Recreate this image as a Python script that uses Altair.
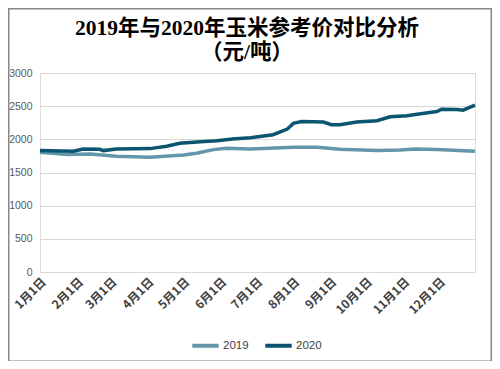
import altair as alt
import pandas as pd

title_lines = ["2019年与2020年玉米参考价对比分析", "（元/吨）"]

# tick labels at month starts
month_labels = ["1月1日", "2月1日", "3月1日", "4月1日", "5月1日", "6月1日",
                "7月1日", "8月1日", "9月1日", "10月1日", "11月1日", "12月1日"]
month_days = [0, 31, 59, 90, 120, 151, 181, 212, 243, 273, 304, 334]

# 2019 series (day of year, price)
days_2019 = [0, 23, 42, 64, 92, 120, 131, 145, 156, 176, 212, 232, 251, 282, 301, 315, 332, 364]
vals_2019 = [1805, 1770, 1780, 1745, 1730, 1765, 1790, 1845, 1865, 1855, 1880, 1880, 1850, 1830, 1840, 1855, 1845, 1820]

# 2020 series (day of year, price)
days_2020 = [0, 28, 36, 50, 53, 64, 92, 106, 117, 134, 148, 161, 176, 195, 207, 212, 219, 237, 244,
             251, 265, 282, 293, 307, 320, 332, 336, 349, 354, 364]
vals_2020 = [1830, 1820, 1855, 1850, 1830, 1855, 1860, 1895, 1940, 1965, 1980, 2005, 2025, 2070, 2155,
             2240, 2270, 2260, 2220, 2220, 2260, 2280, 2340, 2355, 2390, 2420, 2455, 2450, 2440, 2515]

df = pd.concat([
    pd.DataFrame({"day": days_2019, "price": vals_2019, "year": "2019"}),
    pd.DataFrame({"day": days_2020, "price": vals_2020, "year": "2020"}),
])

label_expr = "[" + ",".join("'" + s + "'" for s in month_labels) + "][indexof(" + \
    "[" + ",".join(str(d) for d in month_days) + "], datum.value)]"

lines = alt.Chart(df).mark_line(strokeWidth=3.5).encode(
    x=alt.X("day:Q", scale=alt.Scale(domain=[0, 364], nice=False, zero=False),
            axis=alt.Axis(values=month_days, labelExpr=label_expr, labelAngle=-45,
                          grid=False, domain=False, ticks=False, labelPadding=4,
                          labelFont="Noto Sans CJK SC", labelFontWeight="bold",
                          labelFontSize=12, labelColor="#404040", title=None,
                          labelOverlap=False)),
    y=alt.Y("price:Q", scale=alt.Scale(domain=[0, 3000], nice=False),
            axis=alt.Axis(values=[0, 500, 1000, 1500, 2000, 2500, 3000], format="d",
                          grid=True, gridColor="#d9d9d9", domain=False, ticks=False,
                          labelPadding=8, labelFont="Liberation Sans", labelFontSize=10.5,
                          labelColor="#595959", title=None)),
    color=alt.Color("year:N",
                    scale=alt.Scale(domain=["2019", "2020"], range=["#6496ab", "#0b5570"]),
                    legend=alt.Legend(orient="none", legendX=150, legendY=257,
                                      direction="horizontal", title=None,
                                      symbolType="stroke", symbolStrokeWidth=4,
                                      symbolSize=700, labelFontSize=11.5,
                                      labelFont="Liberation Sans", labelColor="#404040",
                                      columnPadding=8, labelOffset=2)),
    order="day:Q",
)

frame = alt.Chart(pd.DataFrame({"a": [0]})).mark_rect(
    fill="transparent", stroke="#888888", strokeWidth=1.5, clip=False
).encode(x=alt.value(-31.25), x2=alt.value(451.25), y=alt.value(-64.25), y2=alt.value(288.25))

title_df = pd.DataFrame({"t": title_lines, "i": [0, 1]})
title = alt.Chart(title_df).mark_text(
    font="Liberation Serif, Noto Sans CJK SC", fontSize=21.5, fontWeight="bold",
    color="#000000", align="center", baseline="alphabetic", clip=False
).encode(
    text="t:N",
    x=alt.value(207),
    y=alt.Y("i:Q", scale=alt.Scale(domain=[0, 1], range=[-38, -14]), axis=None),
)

chart = alt.layer(frame, title, lines).properties(
    width=435, height=199,
    autosize=alt.AutoSizeParams(type="none"),
    padding={"left": 32, "top": 65, "right": 17, "bottom": 89},
).resolve_scale(y="independent").configure_view(stroke=None).configure(background="white")

chart.save("out.html", embed_options={"renderer": "svg", "actions": False})
